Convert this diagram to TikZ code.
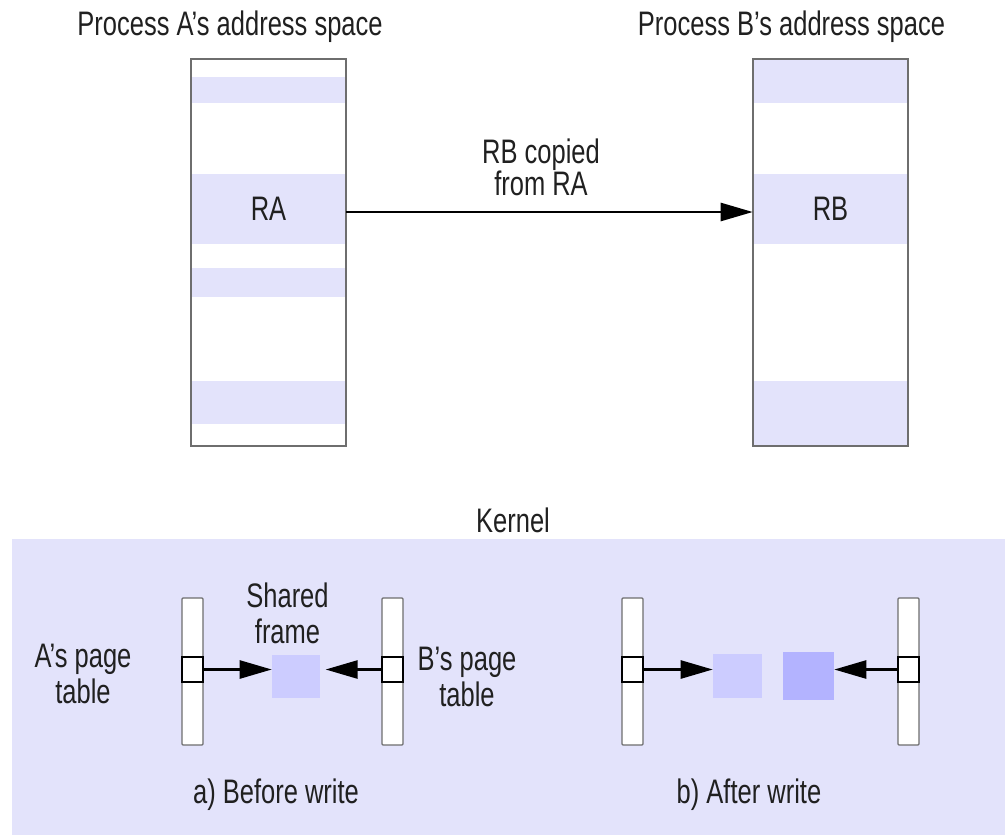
\documentclass[tikz,border=0pt]{standalone}
\usepackage{fontspec}
\setmainfont{Liberation Sans}[FakeStretch=0.75]
\usetikzlibrary{arrows.meta}

\definecolor{band}{HTML}{E3E3FB}
\definecolor{kernelbg}{HTML}{E3E3FB}
\definecolor{frameold}{HTML}{CCCCFF}
\definecolor{framenew}{HTML}{B3B3FF}
\definecolor{edge}{HTML}{6E6E6E}
\definecolor{ink}{HTML}{202020}

\begin{document}
\begin{tikzpicture}[x=0.75pt,y=-0.75pt,
  font=\fontsize{25.5}{27}\selectfont,
  txt/.style={inner sep=0pt, align=center, text=ink},
  region/.style={fill=band, inner sep=0pt, minimum width=116.25pt, text=ink},
  space/.style={draw=edge, line width=1.1pt, inner sep=0pt,
                minimum width=116.25pt, minimum height=290.25pt},
  ptable/.style={draw=edge, fill=white, line width=0.9pt, inner sep=0pt,
                 rounded corners=0.8pt, minimum width=15.75pt, minimum height=110.25pt},
  pentry/.style={draw=black, fill=white, line width=0.9pt, inner sep=0pt,
                 minimum width=15.75pt, minimum height=18.75pt},
  pframe/.style={inner sep=0pt},
  ptr/.style={-{Triangle[length=24pt,width=13.5pt]}, line width=1.9pt}]

\path[use as bounding box] (0,0) rectangle (1005,835);

% ---- Process A's address space
\node[txt, anchor=base] (titleA) at (230,35) {Process A’s address space};
\node[region, minimum height=19.5pt] (a1) at (268.5,90) {};
\node[region, minimum height=52.5pt] (ra) at (268.5,209) {RA};
\node[region, minimum height=21.75pt] (a3) at (268.5,282.5) {};
\node[region, minimum height=32.25pt] (a4) at (268.5,402.5) {};
\node[space] (spaceA) at (268.5,252.5) {};

% ---- Process B's address space
\node[txt, anchor=base] (titleB) at (791.5,35) {Process B’s address space};
\node[region, minimum height=33pt] (b1) at (830.5,81) {};
\node[region, minimum height=52.5pt] (rb) at (830.5,209) {RB};
\node[region, minimum height=48.75pt] (b3) at (830.5,413.5) {};
\node[space] (spaceB) at (830.5,252.5) {};

% ---- copy of region RA into RB
\draw[ptr] (ra.east |- 0,212) coordinate (cpy) -- (cpy -| rb.west);
\node[txt, font=\fontsize{25.5}{24}\selectfont] (cpylbl) at (541,167) {RB copied\\from RA};

% ---- kernel
\node[txt, anchor=base] (kernel) at (513,532) {Kernel};
\fill[kernelbg] (12,539) rectangle (1005,835);

% ---- a) before write
\node[ptable] (ptAa) at (192.5,671.5) {};
\node[pentry] (eAa) at (192.5,669.5) {};
\node[ptable] (ptBa) at (392.5,671.5) {};
\node[pentry] (eBa) at (392.5,669.5) {};
\node[pframe, fill=frameold, minimum width=36pt, minimum height=32.25pt] (shared) at (296,676.5) {};
\draw[ptr] (eAa.east) -- (eAa.east -| shared.west);
\draw[ptr, shorten >=4pt] (eBa.west) -- (eBa.west -| shared.east);
\node[txt] (lblA) at (83,673.5) {A’s page\\table};
\node[txt] (lblB) at (467,677) {B’s page\\table};
\node[txt] (lblS) at (287.5,613.5) {Shared\\frame};
\node[txt, anchor=base] (capA) at (276,803) {a) Before write};

% ---- b) after write
\node[ptable] (ptAb) at (632.5,671.5) {};
\node[pentry] (eAb) at (632.5,669.5) {};
\node[ptable] (ptBb) at (908.5,671.5) {};
\node[pentry] (eBb) at (908.5,669.5) {};
\node[pframe, fill=frameold, minimum width=36.75pt, minimum height=33pt] (fold) at (737.5,676) {};
\node[pframe, fill=framenew, minimum width=38.25pt, minimum height=36pt] (fnew) at (808.5,676) {};
\draw[ptr] (eAb.east) -- (eAb.east -| fold.west);
\draw[ptr] (eBb.west) -- (eBb.west -| fnew.east);
\node[txt, anchor=base] (capB) at (749,803) {b) After write};

\end{tikzpicture}
\end{document}
